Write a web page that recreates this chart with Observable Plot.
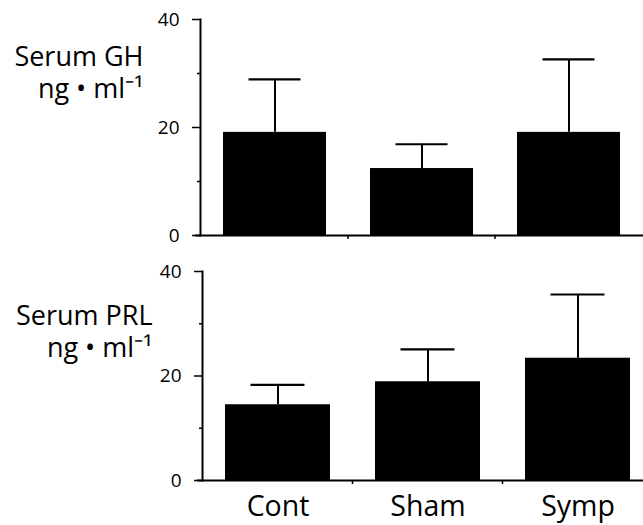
<!DOCTYPE html>
<html>
<head>
<meta charset="utf-8">
<script src="https://cdn.jsdelivr.net/npm/d3@7"></script>
<script src="https://cdn.jsdelivr.net/npm/@observablehq/plot@0.6"></script>
<style>
  html, body { margin: 0; padding: 0; background: #fff; }
  #chart { width: 643px; }
  #chart svg { display: block; overflow: visible; }
</style>
</head>
<body>
<div id="chart"></div>
<script>
const groups = ["Cont", "Sham", "Symp"];
const ghMean = [19.1, 12.4, 19.1];
const ghUpper = [28.9, 16.9, 32.6];
const prlMean = [14.5, 18.9, 23.4];
const prlUpper = [18.3, 25.1, 35.6];
const majorTicks = [0, 20, 40];
const minorTicks = [10, 30];
const ghLabel = "Serum GH\nng • ml⁻¹";
const prlLabel = "Serum PRL\nng • ml⁻¹";

const FONT = "'Open Sans', sans-serif";

function boundaryTicks(index, scales, values, dimensions) {
  const x = scales.x;
  const bw = typeof x.bandwidth === "function" ? x.bandwidth() : 0;
  const y0 = dimensions.height - dimensions.marginBottom;
  const g = d3.create("svg:g");
  for (let i = 0; i < groups.length - 1; i++) {
    const bx = ((x(groups[i]) + bw) + x(groups[i + 1])) / 2;
    g.append("line").attr("x1", bx).attr("x2", bx).attr("y1", y0).attr("y2", y0 + 4)
      .attr("stroke", "black").attr("stroke-width", 1.5);
  }
  return g.node();
}

function panel(means, uppers, label, opts) {
  const data = groups.map((g, i) => ({group: g, mean: means[i], upper: uppers[i]}));
  return Plot.plot({
    width: 643,
    height: opts.height,
    marginLeft: opts.left,
    marginRight: 0,
    marginTop: opts.top,
    marginBottom: opts.bottom,
    style: {fontFamily: FONT, color: "black", background: "white", overflow: "visible"},
    x: {domain: groups, range: opts.xrange, paddingInner: 0.3, paddingOuter: 0.15, axis: null},
    y: {domain: [0, 40], axis: null},
    marks: [
      Plot.barY(data, {x: "group", y: "mean", fill: "black"}),
      Plot.ruleX(data, {x: "group", y1: "mean", y2: "upper", stroke: "black", strokeWidth: 2}),
      Plot.tickY(data, {x: "group", y: "upper", stroke: "black", strokeWidth: 2.2, insetLeft: 25.5, insetRight: 25.5}),
      Plot.axisY(majorTicks, {tickSize: 8, tickPadding: 13, fontSize: 19, tickFormat: d => String(d), strokeWidth: 1.5, label: null}),
      Plot.axisY(minorTicks, {tickSize: 3, tickFormat: () => "", strokeWidth: 1.5, label: null}),
      Plot.frame({anchor: "left", stroke: "black", strokeWidth: 2}),
      Plot.ruleY([0], {stroke: "black", strokeWidth: 2, insetLeft: -5}),
      boundaryTicks,
      opts.showX ? Plot.axisX({tickSize: 0, tickPadding: 15, fontSize: 28.5, label: null}) : null,
      Plot.text([label], {
        text: d => d, frameAnchor: "top-left", textAnchor: "end", lineAnchor: "top",
        dx: opts.labelDx, dy: opts.labelDy, fontSize: 27, lineHeight: 1.19, fill: "black"
      })
    ]
  });
}

const chart = document.getElementById("chart");
chart.appendChild(panel(ghMean, ghUpper, ghLabel,
  {height: 250, top: 19, bottom: 15, left: 200, xrange: [200, 643], labelDx: -57, labelDy: 23.5, showX: false}));
chart.appendChild(panel(prlMean, prlUpper, prlLabel,
  {height: 275, top: 21, bottom: 45, left: 202, xrange: [202, 652], labelDx: -50, labelDy: 31, showX: true}));
</script>
</body>
</html>
